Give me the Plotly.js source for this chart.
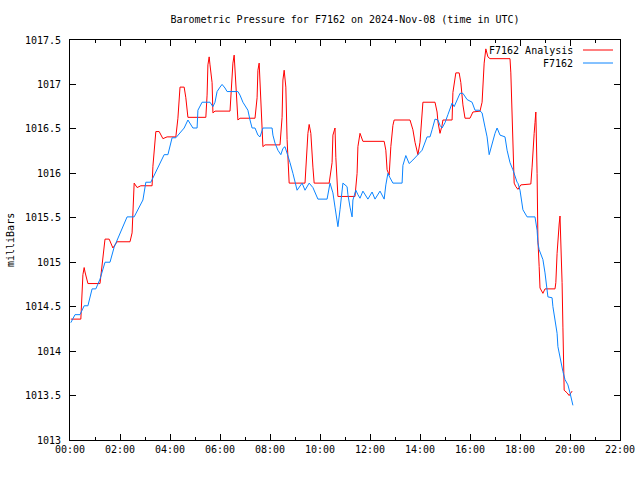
<!DOCTYPE html>
<html>
<head>
<meta charset="utf-8">
<script src="https://cdn.plot.ly/plotly-3.0.1.min.js"></script>
<style>html,body{margin:0;padding:0;background:#fff;}#chart{width:640px;height:480px;}</style>
</head>
<body>
<div id="chart"></div>
<script>
const chartTitle = "Barometric Pressure for F7162 on 2024-Nov-08 (time in UTC)";
const dateStr = "2024-11-08";
const yLabel = "milliBars";
const seriesNames = ["F7162 Analysis", "F7162"];

const analysisTimes = ["00:02","00:26","00:31","00:34","00:36","00:43","01:12","01:17","01:24","01:34","01:43","01:53","02:24","02:29","02:34","02:41","02:50","03:17","03:19","03:26","03:34","03:43","03:53","04:14","04:19","04:24","04:34","04:38","04:43","05:26","05:29","05:31","05:34","05:36","05:41","05:43","05:48","06:24","06:26","06:31","06:34","06:36","06:41","06:43","06:48","07:24","07:29","07:31","07:34","07:36","07:41","07:43","07:48","08:24","08:29","08:31","08:34","08:38","08:41","08:46","09:24","09:29","09:31","09:34","09:38","09:43","09:46","10:22","10:29","10:31","10:36","10:38","10:43","11:24","11:29","11:31","11:36","11:43","12:34","12:38","12:41","12:46","12:50","12:55","12:58","13:36","13:43","13:48","13:53","13:55","14:00","14:05","14:07","14:36","14:41","14:43","14:48","14:53","14:55","15:17","15:19","15:26","15:34","15:38","15:43","15:48","16:00","16:07","16:24","16:29","16:31","16:34","16:38","16:43","16:48","17:36","17:38","17:41","17:43","17:46","17:50","17:55","18:02","18:26","18:29","18:31","18:34","18:36","18:38","18:41","18:43","18:46","18:48","18:55","19:00","19:24","19:26","19:29","19:31","19:34","19:36","19:38","19:41","19:43","19:46","19:53","19:58","20:05"];
const analysisValues = [1014.36,1014.36,1014.86,1014.94,1014.89,1014.76,1014.76,1015.00,1015.26,1015.26,1015.16,1015.23,1015.23,1015.33,1015.89,1015.84,1015.86,1015.86,1016.08,1016.47,1016.47,1016.39,1016.41,1016.41,1016.62,1016.97,1016.97,1016.85,1016.63,1016.63,1016.88,1017.22,1017.31,1017.22,1017.02,1016.68,1016.70,1016.70,1016.90,1017.24,1017.33,1017.13,1016.75,1016.60,1016.62,1016.62,1016.85,1017.16,1017.24,1017.02,1016.57,1016.30,1016.32,1016.32,1016.63,1017.05,1017.16,1016.97,1016.38,1015.89,1015.89,1016.30,1016.45,1016.55,1016.45,1016.07,1015.89,1015.89,1016.12,1016.43,1016.51,1016.18,1015.74,1015.74,1016.00,1016.30,1016.45,1016.36,1016.36,1016.26,1016.04,1015.98,1016.30,1016.54,1016.60,1016.60,1016.49,1016.35,1016.26,1016.21,1016.35,1016.63,1016.80,1016.80,1016.69,1016.58,1016.45,1016.54,1016.60,1016.60,1016.91,1017.13,1017.13,1017.02,1016.77,1016.62,1016.62,1016.69,1016.70,1016.80,1017.05,1017.24,1017.40,1017.31,1017.29,1017.29,1017.13,1016.75,1016.38,1015.89,1015.85,1015.82,1015.87,1015.88,1016.07,1016.30,1016.45,1016.57,1016.69,1016.00,1015.25,1014.95,1014.71,1014.65,1014.70,1014.70,1014.77,1015.10,1015.27,1015.43,1015.52,1015.28,1014.77,1014.27,1013.56,1013.53,1013.50,1013.55];

const stationTimes = ["00:02","00:12","00:24","00:34","00:43","00:53","01:02","01:12","01:24","01:36","01:46","02:17","02:34","02:55","03:02","03:14","03:46","03:55","04:05","04:14","04:34","04:43","04:55","05:05","05:07","05:17","05:36","05:43","05:48","05:53","06:00","06:05","06:12","06:17","06:43","06:48","06:55","07:07","07:12","07:17","07:24","07:31","07:36","07:43","08:05","08:07","08:12","08:19","08:26","08:31","08:36","08:41","08:48","08:55","09:00","09:05","09:17","09:24","09:34","09:43","09:55","10:17","10:24","10:31","10:36","10:41","10:43","10:48","10:53","10:55","11:05","11:07","11:12","11:17","11:19","11:26","11:31","11:36","11:43","11:53","11:55","12:05","12:12","12:24","12:34","12:38","12:43","12:48","12:55","13:17","13:19","13:26","13:34","13:43","13:55","14:05","14:17","14:24","14:29","14:36","14:43","14:48","14:53","15:00","15:07","15:17","15:22","15:29","15:36","15:43","15:53","16:05","16:12","16:22","16:29","16:36","16:41","16:46","16:53","17:00","17:05","17:12","17:24","17:29","17:36","17:43","17:53","17:55","18:00","18:05","18:07","18:17","18:36","18:41","18:43","18:46","18:50","18:55","19:00","19:05","19:07","19:17","19:19","19:24","19:29","19:31","19:36","19:41","19:43","19:48","19:55","20:00","20:07"];
const stationValues = [1014.32,1014.41,1014.41,1014.51,1014.51,1014.70,1014.70,1014.81,1015.00,1015.00,1015.17,1015.51,1015.51,1015.70,1015.90,1015.90,1016.21,1016.21,1016.40,1016.40,1016.51,1016.60,1016.51,1016.51,1016.71,1016.80,1016.80,1016.75,1016.80,1016.92,1016.97,1017.00,1016.96,1016.92,1016.92,1016.88,1016.80,1016.71,1016.60,1016.51,1016.51,1016.43,1016.41,1016.51,1016.51,1016.43,1016.34,1016.26,1016.21,1016.28,1016.30,1016.23,1016.12,1016.00,1015.89,1015.81,1015.89,1015.81,1015.89,1015.84,1015.71,1015.71,1015.89,1015.78,1015.62,1015.48,1015.40,1015.59,1015.78,1015.89,1015.85,1015.76,1015.62,1015.51,1015.70,1015.81,1015.76,1015.72,1015.80,1015.73,1015.71,1015.79,1015.71,1015.80,1015.71,1015.87,1016.00,1015.95,1015.89,1015.89,1016.09,1016.20,1016.11,1016.15,1016.21,1016.26,1016.41,1016.41,1016.49,1016.61,1016.60,1016.54,1016.51,1016.57,1016.66,1016.79,1016.75,1016.83,1016.90,1016.90,1016.83,1016.80,1016.71,1016.71,1016.68,1016.52,1016.41,1016.21,1016.34,1016.45,1016.51,1016.43,1016.41,1016.26,1016.12,1016.04,1015.90,1015.89,1015.81,1015.67,1015.59,1015.51,1015.51,1015.36,1015.22,1015.14,1015.08,1015.03,1014.88,1014.69,1014.61,1014.60,1014.50,1014.35,1014.20,1014.05,1013.92,1013.82,1013.77,1013.68,1013.62,1013.53,1013.39];

const xTickVals = ["00:00","02:00","04:00","06:00","08:00","10:00","12:00","14:00","16:00","18:00","20:00","22:00"];
const yTickVals = [1013,1013.5,1014,1014.5,1015,1015.5,1016,1016.5,1017,1017.5];
const yTickText = ["1013","1013.5","1014","1014.5","1015","1015.5","1016","1016.5","1017","1017.5"];

const colors = ["#ff0000", "#0a84ff"];
const FONT = "DejaVu Sans Mono, monospace";
const toDT = t => dateStr + " " + t;

const traces = [
  {x: analysisTimes.map(toDT), y: analysisValues, name: seriesNames[0], type: "scatter", mode: "lines",
   line: {color: colors[0], width: 1}, showlegend: false, hoverinfo: "skip"},
  {x: stationTimes.map(toDT), y: stationValues, name: seriesNames[1], type: "scatter", mode: "lines",
   line: {color: colors[1], width: 1}, showlegend: false, hoverinfo: "skip"}
];

const lastTick = xTickVals[xTickVals.length - 1];
const layout = {
  width: 640, height: 480,
  margin: {l: 70, r: 20, t: 40, b: 40, pad: 0},
  paper_bgcolor: "#ffffff", plot_bgcolor: "#ffffff",
  font: {family: FONT, size: 10, color: "#000"},
  title: {text: chartTitle, font: {family: FONT, size: 10, color: "#000"}, x: 0.5, xref: "paper", y: 0.96, yref: "container", xanchor: "center", yanchor: "middle"},
  xaxis: {
    type: "date", range: [toDT(xTickVals[0]), toDT(lastTick)],
    tickvals: xTickVals.map(toDT), ticktext: xTickVals,
    ticks: "inside", ticklen: 6, tickcolor: "#000", tickwidth: 1,
    minor: {dtick: 3600000, ticks: "inside", ticklen: 3, tickcolor: "#000", showgrid: false},
    showline: true, linecolor: "#000", linewidth: 1, mirror: "ticks",
    showgrid: false, zeroline: false, fixedrange: true,
    tickfont: {family: FONT, size: 10, color: "#000"}
  },
  yaxis: {
    range: [yTickVals[0], yTickVals[yTickVals.length - 1]],
    tickvals: yTickVals, ticktext: yTickText,
    ticks: "inside", ticklen: 6, tickcolor: "#000", tickwidth: 1,
    showline: true, linecolor: "#000", linewidth: 1, mirror: "ticks",
    showgrid: false, zeroline: false, fixedrange: true,
    ticklabelstandoff: 6,
    tickfont: {family: FONT, size: 10, color: "#000"}
  },
  annotations: [
    {text: yLabel, xref: "paper", yref: "paper", x: 0, y: 0.5, xshift: -60, textangle: -90,
     showarrow: false, xanchor: "center", yanchor: "middle", font: {family: FONT, size: 10, color: "#000"}},
    {text: seriesNames[0], xref: "paper", yref: "paper", x: 0, y: 1, xshift: 505, yshift: -10,
     showarrow: false, xanchor: "right", yanchor: "middle", font: {family: FONT, size: 10, color: "#000"}},
    {text: seriesNames[1], xref: "paper", yref: "paper", x: 0, y: 1, xshift: 505, yshift: -23,
     showarrow: false, xanchor: "right", yanchor: "middle", font: {family: FONT, size: 10, color: "#000"}}
  ],
  shapes: [
    {type: "line", xref: "paper", yref: "paper", x0: 0.9327, x1: 0.9873, y0: 0.975, y1: 0.975, line: {color: colors[0], width: 1}},
    {type: "line", xref: "paper", yref: "paper", x0: 0.9327, x1: 0.9873, y0: 0.9425, y1: 0.9425, line: {color: colors[1], width: 1}}
  ]
};

Plotly.newPlot("chart", traces, layout, {staticPlot: true, displayModeBar: false});
</script>
</body>
</html>
